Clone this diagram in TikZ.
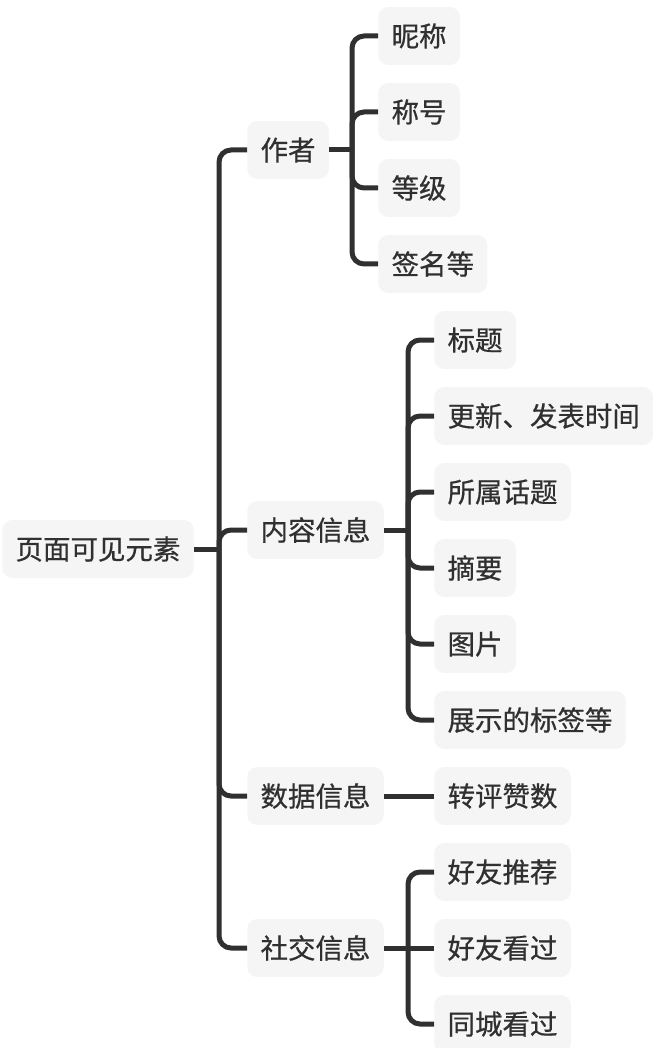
\documentclass[tikz,border=0pt]{standalone}
\usepackage{fontspec}
\setmainfont{Noto Sans CJK SC}[BoldFont=Noto Sans CJK SC, BoldFeatures={FakeBold=0.6}]
\usepackage{xcolor}
\usepackage{tikz}
\usetikzlibrary{positioning, calc}
\definecolor{inkgray}{HTML}{303030}
\definecolor{boxgray}{HTML}{F5F5F5}

\begin{document}
\begin{tikzpicture}[
        x=0.75pt, y=-0.75pt,
        topic/.style={rectangle, rounded corners=7.5pt, fill=boxgray, anchor=west, inner xsep=10pt, inner ysep=0pt, minimum height=43.5pt, font=\fontsize{20.6}{24}\selectfont\bfseries, text=inkgray},
        link/.style={line width=3.75pt, draw=inkgray, rounded corners=9pt}
    ]
        \useasboundingbox (0,0) rectangle (668,1048);

        \node[topic] (page)    at (2,549)   {页面可见元素};

        \node[topic] (author)  at (247,150) {作者};
        \node[topic] (content) at (247,530) {内容信息};
        \node[topic] (data)    at (247,796) {数据信息};
        \node[topic] (social)  at (247,948) {社交信息};

        \node[topic] (nick)    at (378,36)  {昵称};
        \node[topic] (title)   at (378,112) {称号};
        \node[topic] (level)   at (378,188) {等级};
        \node[topic] (sign)    at (378,264) {签名等};

        \node[topic] (heading) at (434,340) {标题};
        \node[topic] (update)  at (434,416) {更新、发表时间};
        \node[topic] (topicof) at (434,492) {所属话题};
        \node[topic] (summary) at (434,568) {摘要};
        \node[topic] (picture) at (434,644) {图片};
        \node[topic] (tags)    at (434,720) {展示的标签等};

        \node[topic] (counts)  at (434,796) {转评赞数};

        \node[topic] (recom)   at (434,872) {好友推荐};
        \node[topic] (seen)    at (434,948) {好友看过};
        \node[topic] (city)    at (434,1024) {同城看过};

        % junctions on the trunks
        \coordinate (pageJ)    at (219,549);
        \coordinate (authorJ)  at (352,150);
        \coordinate (contentJ) at (408,530);
        \coordinate (socialJ)  at (408,948);

        \draw[link] (page.east) -- (pageJ);
        \draw[link] (pageJ) |- (author.west);
        \draw[link] (pageJ) |- (content.west);
        \draw[link] (pageJ) |- (data.west);
        \draw[link] (pageJ) |- (social.west);

        \draw[link] (author.east) -- (authorJ);
        \draw[link] (authorJ) |- (nick.west);
        \draw[link] (authorJ) |- (title.west);
        \draw[link] (authorJ) |- (level.west);
        \draw[link] (authorJ) |- (sign.west);

        \draw[link] (content.east) -- (contentJ);
        \draw[link] (contentJ) |- (heading.west);
        \draw[link] (contentJ) |- (update.west);
        \draw[link] (contentJ) |- (topicof.west);
        \draw[link] (contentJ) |- (summary.west);
        \draw[link] (contentJ) |- (picture.west);
        \draw[link] (contentJ) |- (tags.west);

        \draw[link] (data.east) -- (counts.west);

        \draw[link] (social.east) -- (socialJ);
        \draw[link] (socialJ) |- (recom.west);
        \draw[link] (socialJ) -- (seen.west);
        \draw[link] (socialJ) |- (city.west);
    \end{tikzpicture}
\end{document}
